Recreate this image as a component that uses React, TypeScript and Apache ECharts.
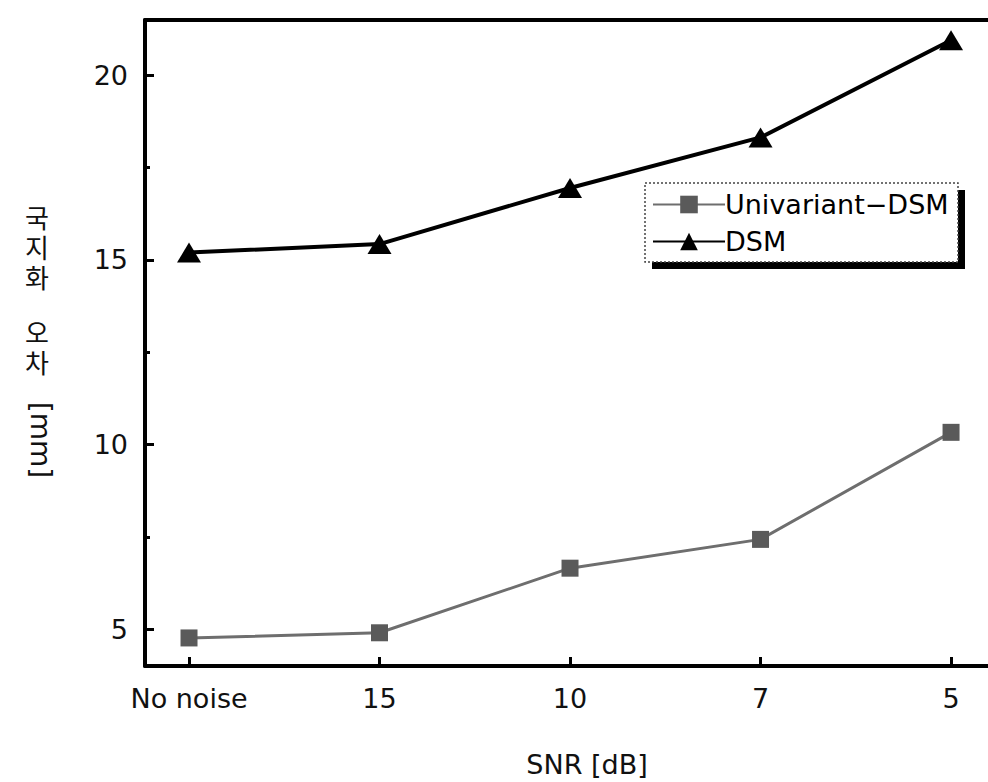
import React, { useEffect, useRef } from "react";
import * as echarts from "echarts";

const categories = ["No noise", "15", "10", "7", "5"];
const univariantDSM = [4.76, 4.9, 6.65, 7.43, 10.33];
const dsm = [15.2, 15.43, 16.95, 18.32, 20.95];
const yTicks = [5, 10, 15, 20];
const yMinorTicks = [7.5, 12.5, 17.5];
const xTicks = [0, 1, 2, 3, 4];
const yTitleChars = ["국", "지", "화", "오", "차"];
const yTitleCharY = [216, 246, 276, 331, 361];

const FONT = "DejaVu Sans";

export default function App() {
  const ref = useRef<HTMLDivElement>(null);
  useEffect(() => {
    document.body.style.margin = "0";
    const chart = echarts.init(ref.current!, null, { renderer: "svg" });
    const toPairs = (arr: number[]) => arr.map((v, i) => [i, v]);
    const xMin = -0.231;
    const xMax = 4.194;
    chart.setOption({
      animation: false,
      backgroundColor: "#fff",
      grid: { left: 145, top: 20, right: 0, height: 646 },
      xAxis: [
        {
          type: "value",
          min: xMin,
          max: xMax,
          splitLine: { show: false },
          axisLine: { show: true, onZero: false, lineStyle: { color: "#000", width: 4 } },
          axisTick: { show: true, inside: true, length: 9, lineStyle: { color: "#000", width: 3 }, customValues: xTicks },
          axisLabel: {
            customValues: xTicks,
            formatter: (v: number) => categories[Math.round(v)] ?? "",
            color: "#111",
            fontFamily: FONT,
            fontSize: 27,
            margin: 19,
          },
        },
        {
          type: "value",
          position: "top",
          min: xMin,
          max: xMax,
          splitLine: { show: false },
          axisLine: { show: true, onZero: false, lineStyle: { color: "#000", width: 4 } },
          axisTick: { show: false },
          axisLabel: { show: false },
        },
      ],
      yAxis: [
        {
          type: "value",
          min: 4,
          max: 21.5,
          splitLine: { show: false },
          axisLine: { show: true, onZero: false, lineStyle: { color: "#000", width: 4 } },
          axisTick: { show: true, inside: true, length: 9, lineStyle: { color: "#000", width: 3 }, customValues: yTicks },
          axisLabel: { customValues: yTicks, color: "#111", fontFamily: FONT, fontSize: 27, margin: 17 },
        },
        {
          type: "value",
          min: 4,
          max: 21.5,
          position: "left",
          splitLine: { show: false },
          axisLine: { show: false, onZero: false },
          axisTick: { show: true, inside: true, length: 5, lineStyle: { color: "#000", width: 3 }, customValues: yMinorTicks },
          axisLabel: { show: false },
        },
      ],
      legend: {
        orient: "vertical",
        left: 652,
        top: 191,
        padding: 0,
        itemWidth: 72,
        itemHeight: 22,
        itemGap: 10,
        textStyle: { fontFamily: FONT, fontSize: 27, color: "#000", padding: [0, 0, 0, -5] },
        data: ["Univariant\u2212DSM", "DSM"],
      },
      graphic: [
        { type: "rect", z: 3, shape: { x: 652, y: 190, width: 313, height: 79 }, style: { fill: "#000" } },
        { type: "rect", z: 3, shape: { x: 645, y: 183, width: 313, height: 79 }, style: { fill: "#fff", stroke: "#444", lineWidth: 1.5, lineDash: [2, 2] } },
        ...yTitleChars.map((c, i) => ({
          type: "text",
          x: 37,
          y: yTitleCharY[i],
          style: {
            text: c,
            font: '26px "Noto Sans CJK KR"',
            lineHeight: 26,
            fill: "#111",
            align: "center",
            verticalAlign: "middle",
          },
        })),
        {
          type: "text",
          x: 40,
          y: 440,
          rotation: -Math.PI / 2,
          style: { text: "[mm]", font: `28px "${FONT}"`, fill: "#111", align: "center", verticalAlign: "middle" },
        },
        {
          type: "text",
          x: 587,
          y: 764,
          style: { text: "SNR [dB]", font: `27px "${FONT}"`, fill: "#111", align: "center", verticalAlign: "middle" },
        },
      ],
      series: [
        {
          name: "Univariant\u2212DSM",
          type: "line",
          data: toPairs(univariantDSM),
          symbol: "rect",
          symbolSize: 17,
          z: 5,
          lineStyle: { color: "#6e6e6e", width: 3 },
          itemStyle: { color: "#5a5a5a" },
        },
        {
          name: "DSM",
          type: "line",
          data: toPairs(dsm),
          symbol: "triangle",
          symbolSize: [24, 20],
          z: 5,
          lineStyle: { color: "#000", width: 4 },
          itemStyle: { color: "#000" },
        },
      ],
    });
    return () => chart.dispose();
  }, []);
  return <div ref={ref} style={{ width: 988, height: 782 }} />;
}
